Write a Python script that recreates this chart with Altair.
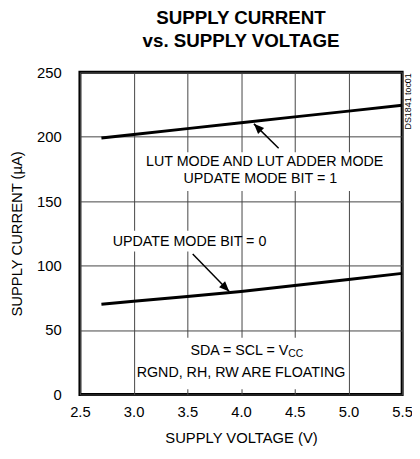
import altair as alt
import pandas as pd

# ---- data ----
voltage = [2.7, 3.0, 3.5, 4.0, 4.5, 5.0, 5.5]
current_bit1 = [199, 201.7, 206.3, 210.8, 215.4, 219.9, 224.5]
current_bit0 = [70, 72.3, 76.1, 80, 84.6, 89.3, 94]

x_ticks = [2.5, 3.0, 3.5, 4.0, 4.5, 5.0, 5.5]
y_ticks = [0, 50, 100, 150, 200, 250]

# annotation texts (data coordinates)
ann_text = ["LUT MODE AND LUT ADDER MODE", "UPDATE MODE BIT = 1",
            "UPDATE MODE BIT = 0", "RGND, RH, RW ARE FLOATING"]
ann_x = [4.22, 4.18, 3.52, 4.0]
ann_y = [180, 167, 118.5, 17]

# white background boxes behind annotation blocks
bg_x1 = [3.1, 2.8, 3.1]
bg_x2 = [5.35, 3.9, 4.9]
bg_y1 = [158, 111, 4]
bg_y2 = [188, 127, 44]

# arrows: tail -> tip
arr_x1 = [4.35, 3.55]
arr_y1 = [191, 109]
arr_x2 = [4.12, 3.89]
arr_y2 = [210, 80]
arr_angle = [315, 135]

FONT = "Liberation Sans, Arial, sans-serif"

df = pd.DataFrame({
    "V": voltage * 2,
    "I": current_bit1 + current_bit0,
    "s": ["bit1"] * len(voltage) + ["bit0"] * len(voltage),
})
ann = pd.DataFrame({"t": ann_text, "x": ann_x, "y": ann_y})
bg = pd.DataFrame({"x1": bg_x1, "x2": bg_x2, "y1": bg_y1, "y2": bg_y2})
arr = pd.DataFrame({"x1": arr_x1, "y1": arr_y1, "x2": arr_x2, "y2": arr_y2, "a": arr_angle})

xs = alt.Scale(domain=[2.5, 5.5], nice=False, zero=False)
ys = alt.Scale(domain=[0, 250], nice=False)

xax = alt.Axis(values=x_ticks, format=".1f", title="SUPPLY VOLTAGE (V)",
               labelPadding=10, titlePadding=12, labelFlush=False)
yax = alt.Axis(values=y_ticks, title="SUPPLY CURRENT (µA)",
               labelPadding=19, titlePadding=12, labelFlush=False)

lines = alt.Chart(df).mark_line(color="black", strokeWidth=3).encode(
    x=alt.X("V:Q", scale=xs, axis=xax),
    y=alt.Y("I:Q", scale=ys, axis=yax),
    detail="s:N",
)

boxes = alt.Chart(bg).mark_rect(color="white").encode(
    x=alt.X("x1:Q", scale=xs), x2="x2:Q",
    y=alt.Y("y1:Q", scale=ys), y2="y2:Q",
)

texts = alt.Chart(ann).mark_text(font=FONT, fontSize=14.5, color="black").encode(
    x=alt.X("x:Q", scale=xs), y=alt.Y("y:Q", scale=ys), text="t:N"
)

vcc_main = alt.Chart(pd.DataFrame({"x": [4.44], "y": [34], "t": ["SDA = SCL = V"]})).mark_text(
    font=FONT, fontSize=14.5, color="black", align="right").encode(
    x=alt.X("x:Q", scale=xs), y=alt.Y("y:Q", scale=ys), text="t:N")
vcc_sub = alt.Chart(pd.DataFrame({"x": [4.44], "y": [34], "t": ["CC"]})).mark_text(
    font=FONT, fontSize=10.5, color="black", align="left", dy=3).encode(
    x=alt.X("x:Q", scale=xs), y=alt.Y("y:Q", scale=ys), text="t:N")

arrow_lines = alt.Chart(arr).mark_rule(color="black", strokeWidth=1.5).encode(
    x=alt.X("x1:Q", scale=xs), y=alt.Y("y1:Q", scale=ys), x2="x2:Q", y2="y2:Q"
)
arrow_heads = alt.Chart(arr).mark_point(
    shape="M0,0 L-0.42,1 L0.42,1 Z", filled=True, color="black", opacity=1, size=420
).encode(
    x=alt.X("x2:Q", scale=xs), y=alt.Y("y2:Q", scale=ys), angle=alt.Angle("a:Q", scale=None)
)

tag = alt.Chart(pd.DataFrame({"x": [5.5], "y": [250], "t": ["DS1841 toc01"]})).mark_text(
    font=FONT, fontSize=9, color="black", angle=270, align="right", baseline="middle", dy=6, dx=-1
).encode(x=alt.X("x:Q", scale=xs), y=alt.Y("y:Q", scale=ys), text="t:N")

chart = alt.layer(boxes, lines, arrow_lines, arrow_heads, texts, vcc_main, vcc_sub, tag).properties(
    width=327, height=327,
    title=alt.TitleParams(["SUPPLY CURRENT", "vs. SUPPLY VOLTAGE"], font=FONT, fontSize=19,
                          fontWeight="bold", anchor="middle", offset=15, lineHeight=23, color="black"),
    autosize=alt.AutoSizeParams(type="none"),
    padding={"left": 73, "top": 62, "right": 10, "bottom": 50},
).configure_view(stroke="black", strokeWidth=3).configure_axis(
    labelFont=FONT, labelFontSize=15, labelColor="black",
    titleFont=FONT, titleFontSize=15, titleFontWeight="normal", titleColor="black",
    domain=False, ticks=False, grid=True, gridColor="#444", gridWidth=1, gridOpacity=1,
)

chart.save("out.html", embed_options={"renderer": "svg", "actions": False})
